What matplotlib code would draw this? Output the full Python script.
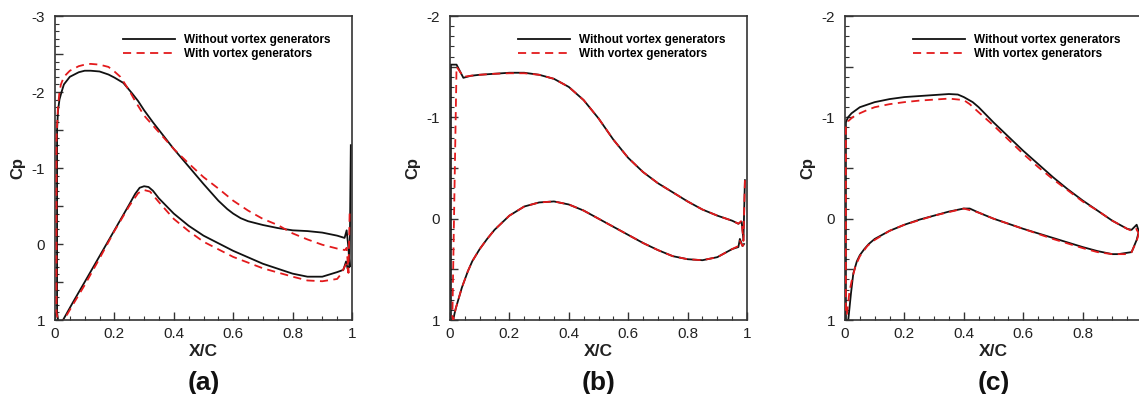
import matplotlib
matplotlib.use("Agg")
import matplotlib.pyplot as plt
from matplotlib.ticker import MultipleLocator, FuncFormatter

plt.rcParams['font.family'] = ['Liberation Sans', 'DejaVu Sans']
plt.rcParams['axes.unicode_minus'] = False

# ---------------- Panel (a) ----------------
a_base_up_x = [0.007, 0.007, 0.01, 0.015, 0.022, 0.03, 0.05, 0.08, 0.1, 0.12, 0.15, 0.18, 0.2, 0.23, 0.26,
               0.28, 0.3, 0.33, 0.35, 0.4, 0.45, 0.5, 0.55, 0.58, 0.6, 0.625, 0.65, 0.7, 0.75, 0.8, 0.85, 0.9,
               0.95, 0.975, 0.982, 0.988, 0.992, 0.996]
a_base_up_cp = [0.9, -1.5, -1.75, -1.9, -2.0, -2.1, -2.2, -2.26, -2.28, -2.28, -2.27, -2.23, -2.19, -2.12, -1.98,
                -1.88, -1.76, -1.60, -1.50, -1.25, -1.02, -0.79, -0.57, -0.46, -0.40, -0.34, -0.30, -0.25, -0.21,
                -0.18, -0.17, -0.15, -0.11, -0.08, -0.18, 0.05, 0.30, -1.3]
a_base_lo_x = [0.012, 0.02, 0.027, 0.04, 0.06, 0.1, 0.15, 0.2, 0.25, 0.27, 0.285, 0.3, 0.315, 0.33, 0.35, 0.4,
               0.45, 0.5, 0.6, 0.7, 0.8, 0.85, 0.9, 0.95, 0.971, 0.98, 0.985, 0.99]
a_base_lo_cp = [1.05, 1.05, 1.0, 0.91, 0.77, 0.50, 0.16, -0.18, -0.52, -0.66, -0.74, -0.76, -0.75, -0.70, -0.60,
                -0.40, -0.24, -0.11, 0.09, 0.26, 0.39, 0.43, 0.43, 0.37, 0.34, 0.23, 0.32, 0.30]
a_vg_up_x = [0.005, 0.005, 0.01, 0.015, 0.02, 0.03, 0.05, 0.08, 0.1, 0.12, 0.15, 0.18, 0.2, 0.22, 0.25, 0.27,
             0.3, 0.35, 0.4, 0.45, 0.5, 0.55, 0.6, 0.65, 0.7, 0.75, 0.8, 0.85, 0.9, 0.95, 0.976, 0.982,
             0.988, 0.992]
a_vg_up_cp = [0.9, -1.4, -1.8, -2.0, -2.1, -2.2, -2.28, -2.34, -2.36, -2.37, -2.36, -2.33, -2.27, -2.20, -2.02,
              -1.88, -1.69, -1.47, -1.25, -1.06, -0.88, -0.73, -0.57, -0.44, -0.33, -0.25, -0.14, -0.06, 0.01,
              0.06, 0.08, 0.05, 0.38, -0.40]
a_vg_lo_x = [0.012, 0.02, 0.03, 0.06, 0.1, 0.15, 0.2, 0.25, 0.28, 0.3, 0.32, 0.35, 0.4, 0.45, 0.5, 0.6, 0.7,
             0.8, 0.85, 0.9, 0.95, 0.96, 0.982, 0.988]
a_vg_lo_cp = [1.05, 1.05, 1.0, 0.8, 0.54, 0.19, -0.17, -0.50, -0.67, -0.71, -0.69, -0.55, -0.33, -0.17, -0.03,
              0.17, 0.32, 0.43, 0.48, 0.49, 0.46, 0.41, 0.25, 0.38]

# ---------------- Panel (b) ----------------
b_base_up_x = [0.003, 0.003, 0.022, 0.045, 0.07, 0.1, 0.15, 0.2, 0.25, 0.3, 0.35, 0.4, 0.45, 0.5, 0.55, 0.6,
               0.65, 0.7, 0.75, 0.8, 0.85, 0.9, 0.95, 0.971, 0.982, 0.988, 0.993]
b_base_up_cp = [1.0, -1.52, -1.52, -1.39, -1.41, -1.42, -1.43, -1.44, -1.44, -1.42, -1.38, -1.30, -1.17, -0.99,
                -0.78, -0.60, -0.46, -0.35, -0.26, -0.17, -0.09, -0.03, 0.02, 0.05, 0.03, 0.21, -0.38]
b_base_lo_x = [0.011, 0.015, 0.02, 0.03, 0.04, 0.05, 0.06, 0.075, 0.1, 0.125, 0.15, 0.175, 0.2, 0.25, 0.3, 0.35,
               0.4, 0.45, 0.5, 0.55, 0.6, 0.65, 0.7, 0.75, 0.8, 0.85, 0.9, 0.95, 0.971, 0.976, 0.985, 0.99]
b_base_lo_cp = [1.0, 0.94, 0.88, 0.78, 0.68, 0.60, 0.52, 0.42, 0.30, 0.20, 0.11, 0.04, -0.03, -0.12, -0.16, -0.17,
                -0.14, -0.08, 0.0, 0.08, 0.16, 0.24, 0.31, 0.37, 0.40, 0.41, 0.38, 0.30, 0.28, 0.20, 0.27, 0.25]
b_vg_up_x = [0.008, 0.022, 0.045, 0.07, 0.1, 0.15, 0.2, 0.25, 0.3, 0.35, 0.4, 0.45, 0.5, 0.55, 0.6, 0.65,
             0.7, 0.75, 0.8, 0.85, 0.9, 0.95, 0.971, 0.982, 0.988, 0.993]
b_vg_up_cp = [0.97, -1.50, -1.40, -1.41, -1.42, -1.43, -1.435, -1.435, -1.42, -1.38, -1.30, -1.17, -0.99, -0.78,
              -0.60, -0.46, -0.35, -0.26, -0.17, -0.09, -0.03, 0.02, 0.05, 0.02, 0.22, -0.38]
b_vg_lo_x = [0.011, 0.015, 0.02, 0.03, 0.04, 0.05, 0.06, 0.075, 0.1, 0.125, 0.15, 0.175, 0.2, 0.25, 0.3, 0.35,
             0.4, 0.45, 0.5, 0.55, 0.6, 0.65, 0.7, 0.75, 0.8, 0.85, 0.9, 0.95, 0.971, 0.976, 0.985, 0.99]
b_vg_lo_cp = [1.0, 0.94, 0.88, 0.78, 0.68, 0.60, 0.52, 0.42, 0.30, 0.20, 0.11, 0.04, -0.03, -0.12, -0.16, -0.17,
              -0.14, -0.08, 0.0, 0.08, 0.16, 0.24, 0.31, 0.37, 0.40, 0.41, 0.38, 0.30, 0.27, 0.22, 0.27, 0.25]

# ---------------- Panel (c) ----------------
c_base_up_x = [0.003, 0.003, 0.01, 0.022, 0.05, 0.1, 0.15, 0.2, 0.25, 0.3, 0.35, 0.38, 0.4, 0.43, 0.45, 0.5,
               0.55, 0.6, 0.65, 0.7, 0.75, 0.8, 0.85, 0.9, 0.95, 0.965, 0.982, 0.99, 1.0]
c_base_up_cp = [1.0, -0.95, -1.0, -1.04, -1.10, -1.15, -1.18, -1.20, -1.21, -1.22, -1.23, -1.225, -1.20, -1.15,
                -1.10, -0.95, -0.81, -0.67, -0.54, -0.41, -0.29, -0.18, -0.08, 0.02, 0.10, 0.11, 0.06, 0.13, 0.2]
c_base_lo_x = [0.011, 0.02, 0.028, 0.04, 0.05, 0.065, 0.08, 0.1, 0.15, 0.2, 0.25, 0.3, 0.35, 0.4, 0.42, 0.45,
               0.5, 0.6, 0.7, 0.8, 0.85, 0.9, 0.92, 0.965, 0.982, 0.99, 1.0]
c_base_lo_cp = [1.0, 0.74, 0.54, 0.42, 0.36, 0.30, 0.25, 0.20, 0.12, 0.06, 0.01, -0.03, -0.07, -0.10, -0.10,
                -0.06, 0.0, 0.10, 0.19, 0.28, 0.32, 0.35, 0.35, 0.33, 0.21, 0.12, 0.2]
c_vg_up_x = [0.003, 0.003, 0.01, 0.025, 0.05, 0.073, 0.1, 0.15, 0.2, 0.25, 0.3, 0.35, 0.4, 0.42, 0.45, 0.5,
             0.55, 0.6, 0.65, 0.7, 0.75, 0.8, 0.85, 0.9, 0.95, 0.965, 0.98, 0.99, 1.0]
c_vg_up_cp = [0.95, -0.90, -0.96, -1.0, -1.04, -1.07, -1.10, -1.13, -1.15, -1.165, -1.175, -1.185, -1.17, -1.13,
              -1.05, -0.92, -0.78, -0.64, -0.51, -0.39, -0.28, -0.17, -0.08, 0.02, 0.10, 0.12, 0.10, 0.15, 0.2]
c_vg_lo_x = [0.006, 0.015, 0.022, 0.035, 0.05, 0.075, 0.1, 0.15, 0.2, 0.3, 0.4, 0.45, 0.5, 0.6, 0.7, 0.8, 0.85,
             0.9, 0.95, 0.965, 0.982, 0.99, 1.0]
c_vg_lo_cp = [0.95, 0.72, 0.62, 0.47, 0.37, 0.27, 0.21, 0.12, 0.06, -0.03, -0.10, -0.06, 0.0, 0.10, 0.20, 0.29,
              0.33, 0.35, 0.35, 0.33, 0.22, 0.14, 0.2]

labels = ["Without vortex generators", "With vortex generators"]
panel_tags = ["(a)", "(b)", "(c)"]
y_limits = [(1, -3), (1, -2), (1, -2)]

W, H = 1139, 394
fig = plt.figure(figsize=(W / 100, H / 100), dpi=100)

lefts = [55, 450, 845]
ax_w, ax_top, ax_bot = 297, 16, 320

black = "#111111"
red = "#e31a1c"

data = [
    (a_base_up_x, a_base_up_cp, a_base_lo_x, a_base_lo_cp, a_vg_up_x, a_vg_up_cp, a_vg_lo_x, a_vg_lo_cp),
    (b_base_up_x, b_base_up_cp, b_base_lo_x, b_base_lo_cp, b_vg_up_x, b_vg_up_cp, b_vg_lo_x, b_vg_lo_cp),
    (c_base_up_x, c_base_up_cp, c_base_lo_x, c_base_lo_cp, c_vg_up_x, c_vg_up_cp, c_vg_lo_x, c_vg_lo_cp),
]


def yfmt(v, pos):
    if abs(v - round(v)) < 1e-6:
        return "%d" % int(round(v))
    return ""


def make_xfmt(show_last):
    def xfmt(v, pos):
        if not show_last and v > 0.99:
            return ""
        return "%g" % round(v, 2)
    return xfmt


for i, (l, d) in enumerate(zip(lefts, data)):
    ax = fig.add_axes([l / W, (H - ax_bot) / H, ax_w / W, (ax_bot - ax_top) / H])
    bux, buc, blx, blc, vux, vuc, vlx, vlc = d
    bx = list(reversed(bux)) + list(blx)
    bc = list(reversed(buc)) + list(blc)
    vx = list(reversed(vux)) + list(vlx)
    vc = list(reversed(vuc)) + list(vlc)
    ax.plot(bx, bc, color=black, lw=1.3, label=labels[0], zorder=2)
    ax.plot(vx, vc, color=red, lw=1.3, ls=(0, (4.5, 3)), label=labels[1], zorder=3)
    ax.set_xlim(0, 1)
    ax.set_ylim(*y_limits[i])
    ax.xaxis.set_major_locator(MultipleLocator(0.2))
    ax.xaxis.set_minor_locator(MultipleLocator(0.05))
    ax.yaxis.set_major_locator(MultipleLocator(0.5))
    ax.yaxis.set_minor_locator(MultipleLocator(0.1))
    ax.yaxis.set_major_formatter(FuncFormatter(yfmt))
    ax.xaxis.set_major_formatter(FuncFormatter(make_xfmt(i < 2)))
    ax.tick_params(which='both', direction='in', top=False, right=False, colors='#333333',
                   labelcolor='#222222', labelsize=11)
    ax.tick_params(which='major', length=6, width=1.0)
    ax.tick_params(which='minor', length=3, width=0.8)
    ax.tick_params(axis='x', pad=5)
    ax.tick_params(axis='y', pad=7)
    for s in ax.spines.values():
        s.set_linewidth(1.2)
        s.set_color('#333333')
    ax.set_xlabel("X/C", fontsize=12.5, fontweight='bold', color='#222222')
    ax.xaxis.label.set_va('center')
    ax.xaxis.set_label_coords(0.5, -(351 - ax_bot) / (ax_bot - ax_top))
    ax.set_ylabel("Cp", fontsize=12, fontweight='bold', color='#222222')
    ax.yaxis.label.set_va('center')
    ax.yaxis.set_label_coords(-37 / ax_w, 0.5)
    ax.text(0.5, -(383 - ax_bot) / (ax_bot - ax_top), panel_tags[i], transform=ax.transAxes,
            ha='center', va='center', fontsize=19, fontweight='bold', color='#111111')
    ax.legend(loc='upper left', bbox_to_anchor=(0.23, 0.942), frameon=False,
              prop={'size': 8.5, 'weight': 'bold'}, handlelength=4.4, handletextpad=0.75,
              labelspacing=0.2, borderpad=0, borderaxespad=0)

fig.savefig("out.png", dpi=100)
